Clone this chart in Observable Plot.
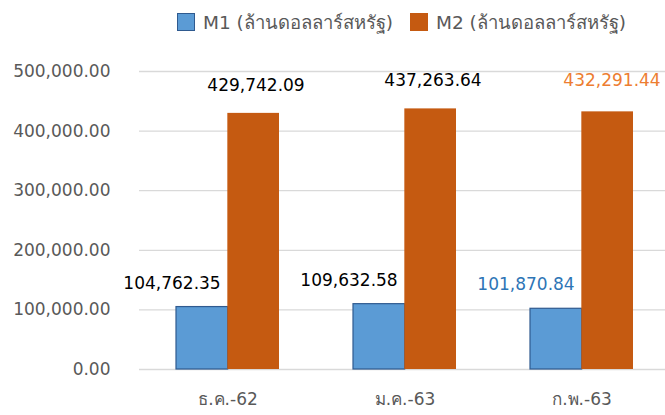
<!DOCTYPE html>
<html>
<head>
<meta charset="utf-8">
<script src="https://cdn.jsdelivr.net/npm/d3@7"></script>
<script src="https://cdn.jsdelivr.net/npm/@observablehq/plot@0.6"></script>
<style>
  html, body { margin: 0; padding: 0; background: #fff; }
  body { width: 665px; height: 415px; overflow: hidden; font-family: "DejaVu Sans", "Noto Sans", sans-serif; }
  #legend { position: relative; width: 665px; height: 44px; }
  .item { position: absolute; top: 13px; height: 18px; display: flex; align-items: center; font-size: 18.5px; color: #595959; white-space: nowrap; }
  .sw { width: 16px; height: 16px; margin-right: 8px; box-sizing: content-box; }
</style>
</head>
<body>
<div id="legend"></div>
<div id="chart"></div>
<script>
// ---- data ----
const months = ["ธ.ค.-62", "ม.ค.-63", "ก.พ.-63"];
const seriesNames = ["M1 (ล้านดอลลาร์สหรัฐ)", "M2 (ล้านดอลลาร์สหรัฐ)"];
const m1Values = [104762.35, 109632.58, 101870.84];
const m2Values = [429742.09, 437263.64, 432291.44];
const yTicks = [0, 100000, 200000, 300000, 400000, 500000];

// ---- styles ----
const FONT = "'DejaVu Sans', 'Noto Sans', sans-serif";
const m1Fill = "#5b9bd5", m1Stroke = "#2f5a8f";
const m2Fill = "#c55a11";
const m1Label = "#2e75b6", m2Label = "#ed7d31";
const highlightMonth = months[2];

// ---- legend (HTML, above the SVG) ----
const legend = document.getElementById("legend");
[[seriesNames[0], m1Fill, m1Stroke, 177], [seriesNames[1], m2Fill, m2Fill, 410]].forEach(([name, fill, stroke, left]) => {
  const it = document.createElement("div");
  it.className = "item";
  it.style.left = left + "px";
  const sw = document.createElement("span");
  sw.className = "sw";
  sw.style.background = fill;
  sw.style.border = "1px solid " + stroke;
  it.appendChild(sw);
  const t = document.createElement("span");
  t.textContent = name;
  it.appendChild(t);
  legend.appendChild(it);
});

// ---- table ----
const m1Rows = months.map((m, i) => ({ month: m, series: seriesNames[0], value: m1Values[i] }));
const m2Rows = months.map((m, i) => ({ month: m, series: seriesNames[1], value: m2Values[i] }));

const fmt = d3.format(",.2f");
const W = 665, H = 371;
const x0 = 139, x1 = 670;
const pIn = 0.42, pOut = 0.21;
const step = (x1 - x0) / (months.length - pIn + 2 * pOut);
const bw = step * (1 - pIn);

const chart = Plot.plot({
  width: W,
  height: H,
  marginLeft: 139,
  marginRight: 0,
  marginTop: 27,
  marginBottom: 46,
  style: { fontFamily: FONT, fontSize: "17px", color: "#595959", background: "#fff" },
  x: { domain: months, range: [x0, x1], paddingInner: pIn, paddingOuter: pOut, label: null, tickSize: 0, tickPadding: 23 },
  y: { domain: [0, 500000], ticks: yTicks, tickFormat: fmt, label: null, tickSize: 0, tickPadding: 29 },
  marks: [
    Plot.ruleY(yTicks, { stroke: "#d9d9d9", strokeWidth: 1.3 }),
    Plot.barY(m1Rows, { x: "month", y: "value", fill: m1Fill, stroke: m1Stroke, strokeWidth: 1.2, insetRight: bw / 2 }),
    Plot.barY(m2Rows, { x: "month", y: "value", fill: m2Fill, insetLeft: bw / 2 }),
    Plot.text(m1Rows, { filter: d => d.month !== highlightMonth, x: "month", y: "value", text: d => fmt(d.value), dx: -56, dy: -24, fill: "#000", fontSize: 17 }),
    Plot.text(m1Rows, { filter: d => d.month === highlightMonth, x: "month", y: "value", text: d => fmt(d.value), dx: -56, dy: -24, fill: m1Label, fontSize: 17 }),
    Plot.text(m2Rows, { filter: d => d.month !== highlightMonth, x: "month", y: "value", text: d => fmt(d.value), dx: 28, dy: -28, fill: "#000", fontSize: 17 }),
    Plot.text(m2Rows, { filter: d => d.month === highlightMonth, x: "month", y: "value", text: d => fmt(d.value), dx: 30, dy: -31, fill: m2Label, fontSize: 17 })
  ]
});
document.getElementById("chart").appendChild(chart);
</script>
</body>
</html>
